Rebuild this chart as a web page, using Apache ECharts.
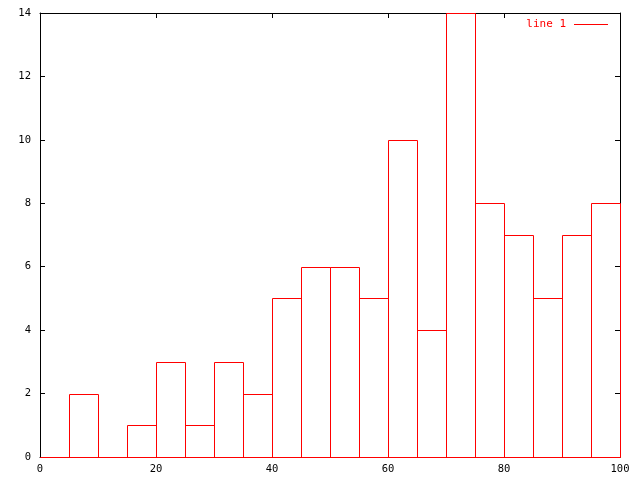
<!DOCTYPE html>
<html><head><meta charset="utf-8">
<script src="https://cdn.jsdelivr.net/npm/echarts@6/dist/echarts.min.js"></script>
<style>html,body{margin:0;padding:0;background:#fff}#c{width:640px;height:480px}</style>
</head><body><div id="c"></div>
<script>
const binStarts = [0,5,10,15,20,25,30,35,40,45,50,55,60,65,70,75,80,85,90,95];
const binWidth = 5;
const counts = [0,2,0,1,3,1,3,2,5,6,6,5,10,4,14,8,7,5,7,8];
const xTicks = [0,20,40,60,80,100];
const yTicks = [0,2,4,6,8,10,12,14];
const seriesName = 'line 1';

const data = binStarts.map((s,i)=>[s, s+binWidth, counts[i]]);
const font = {fontFamily:'DejaVu Sans Mono', fontSize:10.5, color:'#000'};
const axisCommon = {
  axisLine:{show:true, onZero:false, lineStyle:{color:'#000', width:1}},
  axisTick:{show:true, inside:true, length:5, lineStyle:{color:'#000'}},
  splitLine:{show:false}
};
const chart = echarts.init(document.getElementById('c'), null, {renderer:'canvas'});
chart.setOption({
  animation:false,
  grid:{left:40, right:20, top:13, bottom:23},
  legend:{
    data:[{name:seriesName, icon:'rect'}],
    right:27, top:14, align:'right', itemWidth:34, itemHeight:1,
    itemGap:0,
    textStyle:{fontFamily:'DejaVu Sans Mono', fontSize:11, color:'#f00', padding:[0,3,0,0]},
    itemStyle:{color:'#f00'}
  },
  xAxis:[
    Object.assign({type:'value', min:0, max:100, interval:20, position:'bottom',
      axisLabel:Object.assign({margin:7, formatter:v=>xTicks.includes(v)?String(v):''}, font)}, axisCommon),
    Object.assign({type:'value', min:0, max:100, interval:20, position:'top',
      axisLabel:{show:false}}, axisCommon)
  ],
  yAxis:[
    Object.assign({type:'value', min:0, max:14, interval:2, position:'left',
      axisLabel:Object.assign({margin:9, formatter:v=>yTicks.includes(v)?String(v):''}, font)}, axisCommon),
    Object.assign({type:'value', min:0, max:14, interval:2, position:'right',
      axisLabel:{show:false}}, axisCommon)
  ],
  series:[{
    name:seriesName, type:'custom', xAxisIndex:0, yAxisIndex:0,
    itemStyle:{color:'#f00'},
    encode:{x:[0,1], y:2},
    renderItem:function(params, api){
      const p0 = api.coord([api.value(0), 0]);
      const p1 = api.coord([api.value(1), api.value(2)]);
      const x = Math.round(p0[0])+0.5, x2 = Math.round(p1[0])+0.5;
      const y = Math.round(p1[1])+0.5, y2 = Math.round(p0[1])+0.5;
      return {type:'rect', shape:{x:x, y:y, width:x2-x, height:y2-y},
        style:{fill:null, stroke:'#f00', lineWidth:1}};
    },
    data:data
  }]
});
</script></body></html>
